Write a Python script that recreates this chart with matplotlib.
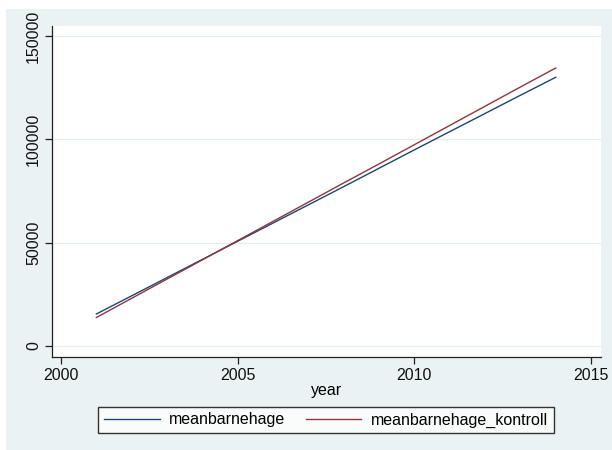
import matplotlib
matplotlib.use("Agg")
import matplotlib.pyplot as plt
from matplotlib.patches import Rectangle

# mean values per year
years = [2001, 2002, 2003, 2004, 2005, 2006, 2007, 2008, 2009, 2010, 2011, 2012, 2013, 2014]
meanbarnehage = [15500, 24300, 33100, 41900, 50700, 59500, 68300, 77100,
                 86000, 94900, 103700, 112500, 121300, 130000]
meanbarnehage_kontroll = [13800, 23100, 32400, 41700, 51000, 60300, 69600, 78900,
                          88100, 97400, 106700, 116000, 125300, 134500]
x_ticks = [2000, 2005, 2010, 2015]
y_ticks = [0, 50000, 100000, 150000]

W, H = 612, 450
plt.rcParams['font.family'] = ['Liberation Sans', 'DejaVu Sans']

fig = plt.figure(figsize=(W / 100, H / 100), dpi=100)
fig.patch.set_facecolor('white')

# light graph region behind the plot
fig.patches.append(Rectangle((6 / W, 0), (W - 6) / W, 441 / H,
                             transform=fig.transFigure, facecolor='#eaf2f3',
                             edgecolor='none', zorder=-5))

ax = fig.add_axes([52 / W, (H - 357) / H, 549 / W, 331 / H])
ax.set_zorder(2)
ax.set_facecolor('white')

ax.plot(years, meanbarnehage, color='#1a476f', lw=1.0, label='meanbarnehage')
ax.plot(years, meanbarnehage_kontroll, color='#90353b', lw=1.0,
        label='meanbarnehage_kontroll')

ax.set_xlim(1999.745, 2015.28)
ax.set_ylim(-5300, 154800)
ax.set_xticks(x_ticks)
ax.set_yticks(y_ticks)
ax.set_yticklabels([str(v) for v in y_ticks], rotation=90, va='center')
ax.tick_params(axis='both', labelsize=11.5, length=5, width=0.9, color='#222222',
               labelcolor='#111111', pad=3)
ax.set_xlabel('year', fontsize=11.5, labelpad=0)

ax.grid(axis='y', color='#e4eeef', lw=0.9)
ax.set_axisbelow(True)
for side in ['top', 'right']:
    ax.spines[side].set_visible(False)
for side in ['left', 'bottom']:
    ax.spines[side].set_color('#222222')
    ax.spines[side].set_linewidth(0.9)

leg = fig.legend(loc='center', bbox_to_anchor=(326 / W, 1 - 420 / H), ncol=2,
                 fontsize=11.5, frameon=True, fancybox=False, handlelength=3.5,
                 columnspacing=1.25, handletextpad=0.6, borderpad=0.35)
leg.set_zorder(3)
leg.get_frame().set_edgecolor('black')
leg.get_frame().set_linewidth(1.0)

fig.savefig('out.png', dpi=100)
